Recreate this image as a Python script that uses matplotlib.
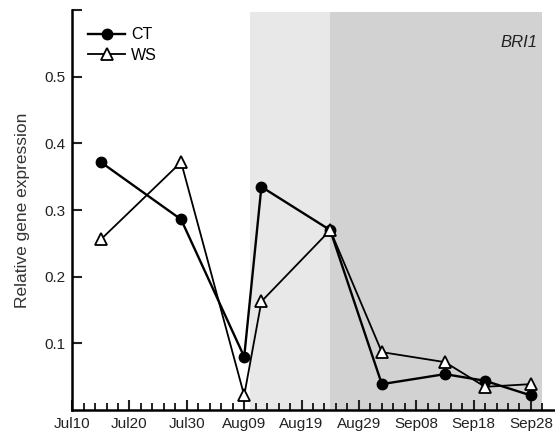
import numpy as np
import matplotlib
matplotlib.use("Agg")
import matplotlib.pyplot as plt
import matplotlib.dates as mdates
from datetime import datetime, timedelta

plt.rcParams['font.family'] = ['Liberation Sans', 'DejaVu Sans']

# sampling dates and expression values
dates = ['07-15', '07-29', '08-09', '08-12', '08-24', '09-02', '09-13', '09-20', '09-28']
ct_values = [0.372, 0.286, 0.080, 0.335, 0.270, 0.039, 0.054, 0.044, 0.022]
ws_values = [0.256, 0.372, 0.022, 0.163, 0.270, 0.087, 0.072, 0.035, 0.039]

# shaded periods
light_period = ['08-10', '08-24']
dark_period = ['08-24', '09-30']

tick_start = '07-10'
x_end = '10-02'

def to_date(s):
    return datetime.strptime('2012-' + s, '%Y-%m-%d')

x = [to_date(d) for d in dates]

fig = plt.figure(figsize=(5.55, 4.41), dpi=100)
ax = fig.add_axes([0.13, 0.07, 0.868, 0.907])

ax.axvspan(to_date(light_period[0]), to_date(light_period[1]), ymax=0.995,
           color='#e8e8e8', lw=0, zorder=0)
ax.axvspan(to_date(dark_period[0]), to_date(dark_period[1]), ymax=0.995,
           color='#d2d2d2', lw=0, zorder=0)

ax.plot(x, ct_values, color='black', lw=1.7, marker='o', markersize=7.5,
        markerfacecolor='black', label='CT', zorder=3)
ax.plot(x, ws_values, color='black', lw=1.3, marker='^', markersize=8,
        markerfacecolor='white', markeredgewidth=1.3, label='WS', zorder=3)

ax.set_xlim(to_date(tick_start), to_date(x_end))
ax.set_ylim(0, 0.6)

ax.xaxis.set_major_locator(mdates.DayLocator(bymonthday=[10, 20, 30, 9, 19, 29, 8, 18, 28]))
major = [to_date(tick_start) + timedelta(days=10 * i) for i in range(9)]
minor = [to_date(tick_start) + timedelta(days=2 * i) for i in range(42)]
ax.set_xticks(mdates.date2num(major))
ax.set_xticks(mdates.date2num(minor), minor=True)
ax.xaxis.set_major_formatter(mdates.DateFormatter('%b%d'))

ax.set_yticks([0.1, 0.2, 0.3, 0.4, 0.5, 0.6])
ax.set_yticklabels(['0.1', '0.2', '0.3', '0.4', '0.5', ''])

for s in ['top', 'right']:
    ax.spines[s].set_visible(False)
for s in ['left', 'bottom']:
    ax.spines[s].set_linewidth(1.8)

ax.tick_params(axis='both', which='major', direction='in', length=7, width=1.5,
               labelsize=11, colors='#222222', pad=5)
ax.tick_params(axis='x', which='minor', direction='in', length=5, width=1.4,
               colors='#222222')

ax.set_ylabel('Relative gene expression', fontsize=12.5, color='#333333', labelpad=10)

ax.text(0.965, 0.92, 'BRI1', transform=ax.transAxes, fontsize=12,
        style='italic', ha='right', va='center', color='#222222')

ax.legend(loc='upper left', frameon=False, fontsize=11.5, handlelength=2.3,
          handletextpad=0.4, labelspacing=0.35, borderaxespad=0.3,
          bbox_to_anchor=(0.01, 0.985))

fig.savefig('out.png', dpi=100)
